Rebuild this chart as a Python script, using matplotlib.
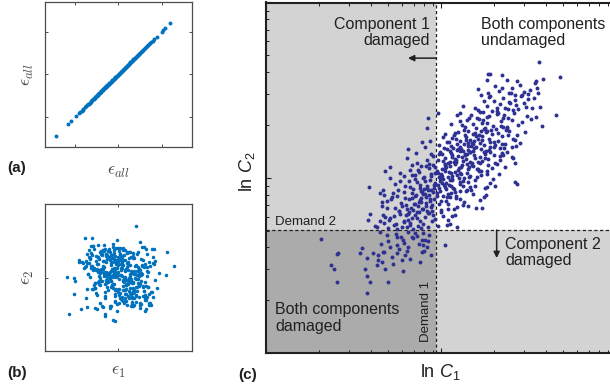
import numpy as np
import matplotlib
matplotlib.use("Agg")
import matplotlib.pyplot as plt

plt.rcParams['font.family'] = ['Liberation Sans', 'DejaVu Sans']
plt.rcParams['mathtext.fontset'] = 'custom'
plt.rcParams['mathtext.rm'] = 'Liberation Sans'
plt.rcParams['mathtext.it'] = 'Liberation Sans:italic'
plt.rcParams['mathtext.bf'] = 'Liberation Sans:bold'

# ---------------- data ----------------
# (a) fully correlated residual: the same sample on both axes
eps_all = [-2.88, -2.34, -2.21, -1.96, -1.81, -1.77, -1.71, -1.66, -1.62, -1.55,
           -1.51, -1.46, -1.41, -1.38, -1.33, -1.29, -1.26, -1.21, -1.18, -1.14,
           -1.11, -1.08, -1.03, -1.01, -0.97, -0.94, -0.93, -0.88, -0.86, -0.83,
           -0.8, -0.79, -0.75, -0.72, -0.71, -0.66, -0.64, -0.61, -0.59, -0.56,
           -0.54, -0.51, -0.49, -0.46, -0.44, -0.42, -0.39, -0.37, -0.35, -0.32,
           -0.3, -0.28, -0.25, -0.23, -0.21, -0.18, -0.16, -0.14, -0.11, -0.09,
           -0.07, -0.04, -0.02, 0.01, 0.03, 0.05, 0.07, 0.1, 0.12, 0.14,
           0.17, 0.19, 0.21, 0.24, 0.26, 0.28, 0.31, 0.33, 0.36, 0.38,
           0.4, 0.43, 0.45, 0.48, 0.5, 0.53, 0.55, 0.58, 0.61, 0.63,
           0.66, 0.69, 0.72, 0.75, 0.77, 0.81, 0.84, 0.87, 0.9, 0.93,
           0.96, 1.0, 1.03, 1.07, 1.1, 1.14, 1.18, 1.22, 1.26, 1.31,
           1.36, 1.41, 1.46, 1.52, 1.58, 1.64, 1.76, 1.99, 2.07, 2.17, 2.4]

# (b) independent residuals
eps_1 = [0.81, -1.54, -1.21, -0.08, 0.99, 2.25, 2.56, -1.85, -1.83, -2.39,
         -2.08, -2.0, -2.31, -1.74, -2.05, -0.16, -0.27, -0.62, -0.62, 1.22,
         1.6, 1.76, 2.18, 1.89, 1.69, 1.53, 1.64, 1.3, 0.87, -1.47,
         -1.5, -1.08, -0.85, -0.39, 0.38, 0.68, 0.99, 1.41,
         0.12, -0.45, 0.67, -0.18, 0.31, -0.72, 0.94, 0.05, -1.08, 0.48,
         -0.33, 0.81, -0.61, 0.22, -0.09, 1.15, -0.87, 0.39, -0.24, 0.73,
         -1.21, 0.16, -0.52, 1.03, -0.14, 0.57, -0.79, 0.28, -0.41, 1.34,
         0.02, -0.66, 0.44, -0.29, 0.88, -0.03, -0.95, 0.61, -0.37, 0.19,
         -0.12, 0.53, -1.32, 0.35, -0.58, 0.07, 1.21, -0.21, 0.76, -0.47,
         0.26, -0.83, 0.11, -0.06, 0.97, -0.35, 0.42, -1.14, 0.64, -0.16,
         -0.54, 0.33, 1.08, -0.26, 0.18, -0.71, 0.51, -0.01, -0.92, 0.84,
         0.09, -0.39, 0.69, -1.02, 0.24, -0.19, 0.46, 1.27, -0.63, 0.14,
         -0.28, 0.58, -0.07, 0.36, -1.45, 0.79, -0.49, 0.03, 0.92, -0.34,
         0.41, -0.76, 0.17, -0.11, 1.12, -0.57, 0.29, -0.88, 0.06, 0.62,
         -0.23, 0.71, -1.17, 0.49, -0.04, 0.21, -0.68, 1.39, -0.31, 0.13,
         -0.81, 0.38, -0.15, 0.86, -0.43, 0.01, 0.54, -1.26, 0.27, -0.08,
         1.01, -0.36, 0.15, -0.59, 0.66, -0.22, -0.97, 0.43, 0.08, -0.51,
         0.32, -0.13, 0.78, -1.06, 0.19, 0.56, -0.42, -0.02, 1.18, -0.74,
         -0.17, 0.47, -0.64, 0.04, 0.91, -0.27, 0.34, -1.38, 0.59, -0.05,
         0.23, -0.91, 0.68, -0.32, -0.1, 1.06, -0.55, 0.37, -0.2, 0.83,
         -0.44, 0.1, -1.11, 0.52, 0.25, -0.69, 0.74, -0.14, 0.0, 1.24,
         -0.62, 0.31, -0.25, 0.89, -0.86, 0.18, -0.38, 0.63, -1.49, 0.45,
         0.06, -0.48, 1.31, -0.12, 0.55, -0.78, 0.2, -0.3, 0.99, -0.06,
         -0.99, 0.35, -0.18, 0.72, -0.53, 0.14, -0.26, 1.09, -0.73, 0.4,
         0.28, -0.09, -0.6, 0.82, -0.34, 0.5, -1.23, 0.11, 0.65, -0.4,
         -0.15, 0.95, -0.46, 0.07, -0.84, 0.3, 0.6, -0.07, -1.0, 0.19,
         1.42, -1.27, 0.93, -0.71, 1.58, -1.09, 0.36, -1.63, 1.17, -0.48,
         0.74, -1.36, 1.29, -0.19, -0.92, 1.47, -1.18, 0.58, -0.35, 1.03,
         -1.51, 0.87, -0.63, 1.36, -0.05, -1.04, 1.69, -0.83, 0.42, -1.29,
         0.15, 1.21, -0.97, 0.66, -1.41, 0.98, -0.28, 1.52, -0.76, 0.31,
         -1.12, 1.11, -0.55, 0.83, -1.67, 0.49, 1.33, -0.41, -0.87, 1.26,
         0.04, -1.23, 0.71, -0.66, 1.45, -0.14, 0.96, -1.39, 0.57, -0.93,
         1.19, -0.31, -1.55, 0.79, 0.22, -0.78, 1.61, -1.01, 0.38, -0.47,
         1.08, -1.33, 0.61, -0.22, 1.38, -0.69, 0.13, -1.16, 0.91, -0.57,
         1.24, -0.84, 0.47, -1.46, 0.69, -0.11, 1.55, -0.95, 0.27, -1.21,
         0.85, -0.39, 1.14, -0.74, 0.52, -1.58, 1.02, -0.25, -1.07, 0.64,
         -0.52, 1.31, -0.99, 0.11, 1.49, -0.67, 0.35, -1.31, 0.77, -0.16,
         1.27, -1.14, 0.56, -0.44, 0.94, -0.82, 1.41, -0.03, -1.48, 0.44,
         0.19, -0.61, 1.06, -1.26, 0.73, -0.36, 1.63, -0.89, 0.29, -1.04,
         0.99, -0.58, -0.18, 1.17, -1.37, 0.62, -0.79, 1.35, -0.27, 0.88,
         -0.07, -1.19, 0.54, 1.22, -0.65, 0.09, -0.94, 1.12, -0.33, 0.68]
eps_2 = [2.37, 1.85, 1.84, 1.73, 1.65, 1.19, 0.54, 0.8, 0.74, 0.04,
         -0.04, -0.15, -1.68, -1.47, -0.78, -2.0, -1.96, -1.8, -1.68, -1.57,
         -0.88, -0.5, 0.12, 0.19, 0.76, 1.3, 1.34, 1.11, 1.08, -1.37,
         -0.96, -1.42, -1.19, -1.34, -1.27, -1.34, -1.19, -1.27,
         0.34, 0.08, -0.21, -0.56, 0.79, 0.41, 0.15, -0.93, -0.27, -0.62,
         1.02, 0.58, -0.84, -0.11, 0.61, -0.38, 0.19, 1.18, -0.31, -0.97,
         0.55, 0.07, -0.44, 0.86, -1.14, 0.32, 1.07, -0.75, 0.27, 0.09,
         -0.05, 0.48, 0.73, -0.36, 0.12, -0.68, 0.94, 0.22, -0.17, 1.29,
         0.63, -0.49, 0.01, 0.38, -0.26, 1.11, -0.83, 0.45, -0.02, 0.17,
         -0.57, 0.26, 0.89, -1.22, 0.05, 0.68, -0.13, 0.42, -0.71, 0.99,
         0.14, -0.35, 0.51, 0.03, -0.92, 0.77, -0.19, 1.36, 0.29, -0.46,
         0.82, -0.09, -0.64, 0.36, 1.04, -0.28, 0.57, -1.03, 0.11, 0.44,
         -0.38, 0.93, 0.2, -0.54, 0.67, -0.07, 1.21, -0.8, 0.31, -0.16,
         0.49, -1.31, 0.72, 0.04, -0.42, 0.25, -0.58, 0.87, 0.13, -0.24,
         1.15, -0.69, 0.35, -0.03, 0.59, -1.09, 0.18, 0.74, -0.33, 0.46,
         -0.14, 0.66, -0.87, 0.28, 1.24, -0.52, 0.09, 0.53, -0.21, 0.81,
         0.37, -0.45, 0.96, -0.12, -0.73, 0.21, 0.64, -0.3, 1.08, 0.02,
         -0.96, 0.43, 0.16, 0.78, -0.4, -0.06, 1.32, 0.24, -0.63, 0.55,
         0.06, 0.91, -0.29, -1.17, 0.47, 0.33, -0.1, 0.69, -0.78, 0.19,
         0.6, -0.18, 1.13, 0.39, -0.53, 0.1, 0.84, -0.37, 0.27, -0.85,
         0.23, 1.01, -0.47, 0.56, -0.08, 0.75, -1.26, 0.4, 0.97, -0.2,
         -0.66, 0.3, 0.12, 1.19, -0.34, 0.63, -0.04, -0.9, 0.52, 0.35,
         0.85, -0.23, 0.47, -0.6, 0.16, 1.05, -0.15, 0.71, -1.4, 0.08,
         0.41, -0.77, 0.26, 0.92, -0.11, 0.58, -0.5, 0.17, 1.27, -0.32,
         -0.04, 0.65, 1.0, -0.43, 0.29, -0.95, 0.5, 0.13, -0.27, 0.8,
         0.7, -0.37, 0.18, -0.74, 1.16, 0.02, -0.19, 0.44, 0.62, -0.58,
         -0.77, 1.12, 0.41, -1.36, 0.93, -0.24, -1.08, 0.67, 1.39, -0.58,
         0.18, 1.27, -1.44, 0.84, -0.31, 0.52, 1.46, -0.92, 0.09, -1.21,
         0.76, -0.63, 1.33, 0.27, -1.55, 0.98, -0.12, 1.21, -0.86, 0.44,
         -1.02, 0.61, 1.52, -0.47, 0.14, -1.29, 0.89, -0.69, 1.08, 0.35,
         -0.35, 1.41, -0.21, -1.12, 0.72, 0.58, -0.91, 1.17, -0.04, 1.31,
         1.24, -0.52, 0.31, 1.49, -1.16, 0.81, -0.39, 0.15, -1.33, 0.96,
         -0.62, 1.03, 0.49, -0.83, 1.36, -0.18, 0.68, -1.47, 1.15, 0.22,
         0.57, 0.88, -1.24, 1.29, -0.44, 0.07, -0.98, 1.44, -0.27, 0.71,
         -1.05, 0.37, 1.19, -0.55, 0.91, 1.38, -0.66, 0.24, -1.18, 1.06,
         0.12, -1.39, 0.79, 1.27, -0.73, 0.45, -0.14, 1.57, -0.49, -0.95,
         1.02, 0.29, -0.81, 0.63, -1.27, 1.22, -0.36, 0.86, 0.53, -1.07,
         -0.41, 1.34, -0.17, 0.94, -0.88, 0.39, -1.19, 0.74, 1.11, -0.26,
         0.83, -0.94, 0.21, 1.47, -0.59, -1.34, 0.62, 0.05, 1.26, -0.72,
         -0.29, 1.09, -0.76, 0.48, 0.97, -1.14, 0.33, -0.45, 1.42, -0.09,
         0.67, -0.51, 1.18, -0.97, 0.26, 1.35, -0.22, -0.84, 0.59, 1.01]

# (c) log-capacities of the two components (demand levels at 0)
ln_c1 = [3.1, 3.72, 3.2, 3.0, 2.97, 1.57, 1.63, 1.52, 1.97, 2.12,
         2.42, 1.27, 1.97, 2.27, 1.57, 1.6, 2.2, 2.37, 2.57, 2.75,
         2.77, 3.02, 3.07, 3.6, 3.19, 3.12, 2.87, 3.0, 0.82, 1.17,
         1.42, 1.82, 1.87, 2.22, 2.32, 2.47, -0.23, 0.07, -0.28, 0.72,
         0.92, 1.22, 1.52, 2.02, 2.12, 2.37, 2.42, 2.27, 2.32, 2.37,
         2.02, 1.92, -0.85, -0.43, -0.33, -0.58, -1.38, -1.53, -1.08, -0.78,
         -0.63, 2.37, 2.44, 1.52, 1.49, -2.0, -1.58, -1.68, -1.28,
         -3.46, -2.93, -2.98, -3.16, -3.06, -2.96, -2.13, -2.08, -1.98, -2.06,
         -1.43, -1.53, -1.78, -1.63, -2.28, -2.23, -2.08, -1.88, -1.73, -1.58,
         -1.03, -0.93, -1.18, -1.38, -0.43, -0.38, -0.33, -0.4, -0.2, 0.27,
         0.32, 0.62, 1.37, 1.45, 0.82, -2.03, -1.78, -1.68, -1.48, -1.18,
         -0.98, -0.68, -0.83, -1.58, -1.48, -1.63,
         -1.21, -0.95, -1.12, -0.71, -0.52, -1.45, -1.32, -0.88, -0.63, -1.05,
         -0.35, -0.48, -1.66, -1.28, -0.79, -0.24, -1.55, -0.15, -0.99, -1.18,
         -0.57, -0.41, -1.73, -0.84, -0.27,
         -1.02, -0.77, -1.38, -0.55, -0.91, -1.19, -0.33, -0.68, -1.56, -0.12,
         -0.84, -1.08, -0.45, -1.27, 0.05, -0.62, -0.97, -0.23, -1.43, -0.71,
         0.21, -0.38,
         -0.58, -0.31, -0.86, -0.12, -1.04, -0.47, 0.08, -0.72, -0.25, -1.22,
         0.29, -0.64, -0.39, -0.93, 0.15, -0.18, -1.35, -0.53, 0.41, -0.05,
         -0.81, -0.29, 0.62, -1.11, -0.44,
         -0.22, 0.11, -0.48, 0.35, -0.71, -0.05, 0.52, -0.33, 0.18, -0.92,
         0.71, -0.15, 0.04, -0.58, 0.43, -1.14, 0.27, -0.38, 0.89, -0.26,
         0.61, -0.81, 0.13, -0.09, 0.97, -0.63, 0.38, -0.45,
         0.21, -0.14, 0.48, 0.03, 0.72, -0.37, 0.31, 0.95, -0.08, 0.57,
         0.14, -0.55, 0.83, 0.39, 1.12, -0.22, 0.62, 0.09, 1.28, -0.71,
         0.26, 0.75, 0.47, -0.02, 1.03, 0.18, 0.66, -0.31,
         0.61, 0.28, 0.89, 0.44, 1.15, 0.07, 0.73, 1.32, 0.52, 0.95,
         0.19, 1.08, 0.66, 1.45, 0.34, 0.81, 1.21, -0.09, 0.58, 1.02,
         0.41, 0.86, 1.56, 0.23, 0.71, 1.27,
         1.04, 0.72, 1.31, 0.91, 1.58, 0.55, 1.17, 1.44, 0.83, 1.69,
         1.02, 0.38, 1.36, 1.87, 0.67, 1.21, 1.53, 0.95, 1.76, 0.48, 1.12,
         1.43, 1.12, 1.71, 1.29, 1.95, 0.88, 1.58, 2.12, 1.04, 1.83,
         1.37, 2.28, 0.71, 1.66, 2.03,
         1.84, 1.52, 2.15, 1.73, 2.41, 1.26, 2.02, 2.63, 1.61, 2.25, 1.93, 2.54,
         -0.41, 0.02, 0.36, 0.79, 1.14, -0.19, 0.25, 0.68, 1.01, 1.39,
         -0.52, -0.07, 0.44, 0.87, 1.25, -0.33, 0.12, 0.53, 0.97, 1.48,
         -0.66, -0.24, 0.17, 0.59, 1.07, -0.11, 0.31, 0.74, 1.18, 1.61,
         -0.85, -0.45, -0.03, 0.41, 0.82, -0.6, -0.17, 0.26, 0.65, 1.11,
         -0.29, 0.09, 0.49, 0.92, 1.34, -0.74, -0.36, 0.06, 0.48, 0.9,
         0.33, 0.71, 1.09, 1.5, -0.14, 0.22, 0.63, -0.48, -0.02, 0.42,
         -0.96, -0.58, -0.27, 0.16, 0.56, -1.16, -0.79, -0.49, -0.09, 0.37,
         1.22, 1.47, 1.73, 1.98, 0.99, 1.31, 1.62, 0.81, 0.57, 0.29,
         -0.81, -1.01, -0.68, -0.38, -0.2, 0.1, 0.34, 0.58, 0.79, 1.03,
         1.52, 1.76, 1.91, 2.08, 2.19, 0.47, 0.71, 0.93, 1.17, 1.36,
         -1.84, -1.52, -0.21, 0.36, -1.11, 0.58, -1.69, -0.04, -1.27, 0.14,
         -0.86, -1.98, 0.43, -0.52, -1.41,
         -1.62, -1.31, 0.84, 1.12, -0.97, 0.53, 1.31, -1.47, 0.71, -0.16,
         0.97, -1.18, 0.35, -0.68, 1.04, 0.22, -0.42, 0.61, -1.56, 0.46,
         -0.89, 1.21,
         -1.24, 1.46, 1.71, -0.96, 1.18, -1.37, 0.92, 1.63, -0.78, 0.54,
         1.35, -0.51, 0.07, 1.89, 0.68, -1.09, 1.02, 0.28, 1.52, -0.27,
         0.81, -0.63, 1.24, 0.45, 1.77, 0.16,
         -0.87, 1.68, 1.92, -0.46, 1.47, 2.14, -0.61, 1.83, 0.36, 1.25,
         -0.28, 1.59, 0.94, 2.06, 0.13, 1.39, -0.15, 0.77, 1.74, 0.49,
         1.11, 2.27, 0.26, 1.56, -0.71, 0.63, 1.97, 0.98,
         -0.19, 2.04, 2.31, 0.28, 1.86, 2.52, 0.09, 1.63, 2.17, 0.44,
         1.38, 0.86, 1.97, 2.68, 0.61, 1.49, 1.14, 2.39, 0.97, 1.73,
         0.21, 1.29, 2.11, 0.75,
         0.46, 2.47, 2.73, 0.98, 1.81, 2.34, 1.19, 2.59, 0.62, 1.52,
         2.17, 1.31, 1.94, 2.86, 0.85, 1.68, 2.02, 1.42,
         2.36, 1.89, 2.71, 1.43, 2.82, 2.08, 1.76, 2.51, 2.93, 1.35, 2.19, 2.64]
ln_c2 = [5.05, 4.58, 4.53, 4.47, 4.42, 4.68, 4.68, 4.5, 4.66, 4.5,
         4.47, 4.22, 4.25, 4.25, 4.1, 3.98, 4.1, 4.05, 4.05, 4.07,
         3.93, 4.25, 4.1, 3.45, 3.12, 3.68, 3.65, 3.4, 3.72, 3.65,
         3.55, 3.65, 3.5, 3.8, 3.6, 3.62, 3.37, 3.52, 3.05, 3.5,
         3.3, 3.35, 3.4, 3.35, 3.1, 2.7, 2.85, 2.5, 2.15, 2.0,
         2.25, 2.45, 2.43, 2.65, 2.5, 2.0, 1.9, 1.78, 1.7, 1.8,
         1.65, 1.45, 1.37, 1.3, 1.05, 1.3, 1.2, 1.12, 1.1,
         -0.28, -0.68, -0.72, -1.05, -1.17, -1.57, -1.18, -1.38, -1.55, -1.9,
         -1.55, -1.18, -1.05, -0.95, -0.7, -0.55, -0.85, -0.7, -0.75, -0.65,
         -0.9, -0.75, -0.7, -0.5, -0.65, -0.45, -0.3, -0.1, -0.15, -0.45,
         0.15, 0.1, 0.65, 0.98, 0.75, 0.3, 0.1, -0.05, -0.15, -0.2,
         -0.3, -0.25, -0.5, 0.45, 0.65, 0.85,
         -0.12, -0.38, -0.58, -0.22, -0.41, -0.33, -0.81, -0.63, -0.08, -0.21,
         -0.62, -0.95, -0.42, -1.02, -0.88, -0.33, -0.67, -0.75, -1.22, -0.44,
         -0.17, -0.29, -0.91, -0.07, -0.52,
         0.08, 0.21, 0.35, 0.12, 0.44, 0.17, 0.39, 0.03, 0.22, 0.27,
         0.31, 0.48, 0.06, 0.41, 0.13, 0.46, 0.26, 0.09, 0.05, 0.37,
         0.42, 0.19,
         0.55, 0.72, 0.63, 0.58, 0.81, 0.91, 0.77, 0.97, 0.52, 0.66,
         0.88, 0.79, 0.64, 0.95, 0.61, 0.86, 0.92, 0.71, 0.99, 0.94,
         0.53, 0.99, 0.69, 0.57, 0.84,
         1.04, 1.18, 1.27, 1.09, 1.12, 1.36, 1.25, 1.46, 1.42, 1.31,
         1.38, 1.21, 1.03, 1.43, 1.49, 1.19, 1.29, 1.08, 1.16, 1.33,
         1.02, 1.48, 1.47, 1.14, 1.44, 1.02, 1.35, 1.17,
         1.53, 1.67, 1.61, 1.78, 1.72, 1.59, 1.88, 1.83, 1.95, 1.97,
         1.69, 1.81, 1.55, 1.74, 1.91, 1.86, 1.64, 1.58, 1.76, 1.66,
         1.99, 1.89, 1.52, 1.71, 1.62, 1.84, 1.79, 1.93,
         2.04, 2.17, 2.12, 2.31, 2.26, 2.09, 2.38, 2.19, 2.46, 2.41,
         2.29, 2.02, 2.22, 2.34, 2.43, 2.07, 2.48, 2.21, 2.13, 2.33,
         2.03, 2.27, 2.14, 2.47, 2.49, 2.04,
         2.53, 2.66, 2.61, 2.79, 2.72, 2.84, 2.92, 2.55, 2.57, 2.88,
         2.71, 2.63, 2.97, 2.68, 2.95, 2.82, 2.98, 2.61, 2.56, 2.77, 2.58,
         3.04, 3.18, 3.12, 3.33, 3.27, 3.09, 3.41, 3.06, 3.46, 3.48,
         3.22, 3.31, 3.28, 3.01, 3.44,
         3.56, 3.71, 3.63, 3.88, 3.74, 3.59, 3.97, 3.82, 4.03, 4.12, 3.78, 4.01,
         0.62, 1.11, 1.58, 2.18, 2.67, 0.93, 1.34, 1.86, 2.35, 2.81,
         0.84, 1.27, 1.71, 2.24, 2.73, 1.09, 1.55, 2.03, 2.52, 3.05,
         0.77, 1.19, 1.63, 2.11, 2.61, 0.74, 1.22, 1.68, 2.16, 2.64,
         0.48, 0.97, 1.42, 1.93, 2.38, 1.05, 1.49, 1.96, 2.43, 2.89,
         0.81, 1.26, 1.49, 1.97, 2.42, 0.66, 1.24, 1.72, 2.26, 2.71,
         0.98, 1.45, 1.94, 2.37, 1.61, 2.07, 2.57, 1.36, 1.88, 2.36,
         0.24, 0.36, 0.57, 0.87, 1.14, 0.03, 0.15, 0.28, 0.45, 0.64,
         1.83, 2.15, 2.49, 2.83, 1.59, 2.01, 2.33, 1.32, 1.73, 1.41,
         0.94, 0.71, 1.22, 1.55, 1.98, 2.28, 2.65, 2.91, 3.14, 2.04,
         1.68, 2.02, 2.21, 2.58, 2.96, 0.43, 0.93, 1.21, 1.49, 1.76,
         0.12, 0.38, 0.51, 0.29, 0.57, 0.46, 0.26, 0.34, 0.14, 0.55,
         0.09, 0.47, 0.18, 0.54, 0.31,
         0.71, 0.98, 0.83, 1.07, 1.14, 0.64, 0.91, 0.88, 1.16, 0.68,
         0.72, 1.01, 0.79, 0.61, 1.19, 1.02, 1.15, 0.97, 1.06, 1.11,
         0.76, 0.66,
         1.38, 1.25, 1.52, 1.61, 1.33, 1.57, 1.72, 1.41, 1.29, 1.22,
         1.64, 1.74, 1.35, 1.69, 1.56, 1.46, 1.28, 1.78, 1.77, 1.25,
         1.47, 1.52, 1.58, 1.31, 1.33, 1.64,
         2.16, 1.86, 2.11, 1.91, 2.29, 2.35, 2.32, 1.98, 2.02, 1.83,
         2.11, 2.39, 2.29, 1.88, 2.35, 2.06, 2.27, 1.96, 2.24, 2.18,
         2.37, 2.19, 1.85, 1.94, 1.96, 2.39, 2.31, 1.89,
         2.67, 2.46, 2.73, 2.88, 2.91, 2.62, 2.54, 2.48, 2.84, 2.51,
         2.69, 2.86, 2.59, 2.95, 2.72, 2.93, 2.45, 2.51, 2.97, 2.64,
         2.79, 2.86, 2.99, 2.44,
         3.19, 3.15, 3.42, 3.36, 3.02, 3.52, 3.07, 3.24, 3.44, 3.21,
         3.36, 3.54, 3.13, 3.33, 3.01, 3.57, 3.09, 3.29,
         3.91, 4.18, 3.68, 3.86, 4.21, 3.67, 4.31, 4.36, 3.95, 4.06, 3.84, 4.14]

demand_1 = 0.0
demand_2 = 0.0

# ---------------- styling ----------------
W, H = 610, 390
BLUE = '#0072BD'
NAVY = '#2E3192'
LIGHT = '#D3D3D3'
DARK = '#ABABAB'
INK = '#231F20'
SPINE = '#4D4D4D'

fig = plt.figure(figsize=(W / 100, H / 100), dpi=100)


def box(l, t, r, b):
    return [l / W, 1 - b / H, (r - l) / W, (b - t) / H]


def small_axes(rect, ticks):
    ax = fig.add_axes(rect)
    ax.set_xlim(-3.4, 3.4)
    ax.set_ylim(-3.4, 3.4)
    ax.set_xticks(ticks)
    ax.set_yticks(ticks)
    ax.set_xticklabels([])
    ax.set_yticklabels([])
    ax.tick_params(direction='in', length=2.2, width=0.7, color=SPINE,
                   top=True, right=True)
    for s in ax.spines.values():
        s.set_color(SPINE)
        s.set_linewidth(0.9)
    return ax


eps_kw = dict(fontsize=13, color='#4D4D4D', math_fontfamily='cm',
              ha='center', va='center')

# (a)
ax_a = small_axes(box(45, 1.7, 192, 146.7), [-2, 0, 2])
ax_a.scatter(eps_all, eps_all, s=8, color=BLUE, linewidths=0)
fig.text(118.5 / W, 1 - 171 / H, r'$\epsilon_{all}$', **eps_kw)
fig.text(27 / W, 1 - 74 / H, r'$\epsilon_{all}$', rotation=90, **eps_kw)

# (b)
ax_b = small_axes(box(45, 204, 192, 351), [0])
ax_b.scatter(eps_1, eps_2, s=6.5, color=BLUE, linewidths=0)
fig.text(118.5 / W, 1 - 372 / H, r'$\epsilon_1$', **eps_kw)
fig.text(27 / W, 1 - 277 / H, r'$\epsilon_2$', rotation=90, **eps_kw)

# (c)
ax_c = fig.add_axes(box(266, 2.5, 616, 353))
xlo, xhi = -5.1, 5.4
ylo, yhi = -3.69, 6.83
ax_c.set_xlim(xlo, xhi)
ax_c.set_ylim(ylo, yhi)

ax_c.fill_between([xlo, demand_1], demand_2, yhi, color=LIGHT, lw=0, zorder=0)
ax_c.fill_between([demand_1, xhi], ylo, demand_2, color=LIGHT, lw=0, zorder=0)
ax_c.fill_between([xlo, demand_1], ylo, demand_2, color=DARK, lw=0, zorder=0)

dash = (0, (2.6, 2.0))
ax_c.axvline(demand_1, color=INK, lw=0.9, ls=dash, zorder=2)
ax_c.axhline(demand_2, color=INK, lw=0.9, ls=dash, zorder=2)

ax_c.scatter(ln_c1, ln_c2, s=8, color=NAVY, linewidths=0, zorder=3)

# log-style tick marks: two decades along each axis
frac = np.log10(np.arange(1, 10))
xdec = (xhi - xlo) / 2
ydec = (yhi - ylo) / 2
ax_c.set_xticks([xlo + xdec * d for d in (0, 1, 2)])
ax_c.set_yticks([ylo + ydec * d for d in (0, 1, 2)])
ax_c.set_xticks([xlo + xdec * (d + f) for d in (0, 1) for f in frac[1:]], minor=True)
ax_c.set_yticks([ylo + ydec * (d + f) for d in (0, 1) for f in frac[1:]], minor=True)
ax_c.set_xticklabels([])
ax_c.set_yticklabels([])
ax_c.tick_params(which='major', direction='in', length=3.4, width=0.8,
                 color=INK, top=True, right=True)
ax_c.tick_params(which='minor', direction='in', length=1.9, width=0.7,
                 color=INK, top=True, right=True)
for s in ax_c.spines.values():
    s.set_color(INK)
    s.set_linewidth(1.5)

txt = dict(fontsize=11.5, color=INK, linespacing=1.15)
ax_c.text(-0.18, 5.93, 'Component 1\ndamaged', ha='right', va='center',
          multialignment='right', **txt)
ax_c.text(1.35, 5.93, 'Both components\nundamaged', ha='left', va='center', **txt)
ax_c.text(2.07, -0.675, 'Component 2\ndamaged', ha='left', va='center', **txt)
ax_c.text(-4.83, -2.63, 'Both components\ndamaged', ha='left', va='center', **txt)
ax_c.text(-4.83, 0.24, 'Demand 2', ha='left', va='center', fontsize=9.5, color=INK)
ax_c.text(-0.285, -3.36, 'Demand 1', ha='center', va='bottom', rotation=90,
          fontsize=9.5, color=INK)

arrow = dict(arrowstyle='-|>', color=INK, lw=1.1, shrinkA=0, shrinkB=0,
             mutation_scale=9)
ax_c.annotate('', xy=(-0.84, 5.16), xytext=(demand_1, 5.16), arrowprops=arrow)
ax_c.annotate('', xy=(1.82, -0.84), xytext=(1.82, demand_2), arrowprops=arrow)

fig.text(440 / W, 1 - 372 / H, r'ln $C_1$', fontsize=13, color=INK,
         ha='center', va='center')
fig.text(247 / W, 1 - 172 / H, r'ln $C_2$', fontsize=13, color=INK,
         ha='center', va='center', rotation=90)

# panel tags
tag = dict(fontsize=11, fontweight='bold', color=INK, ha='left', va='center')
fig.text(7 / W, 1 - 168 / H, '(a)', **tag)
fig.text(7 / W, 1 - 373 / H, '(b)', **tag)
fig.text(238 / W, 1 - 375 / H, '(c)', **tag)

fig.savefig('out.png', dpi=100)
